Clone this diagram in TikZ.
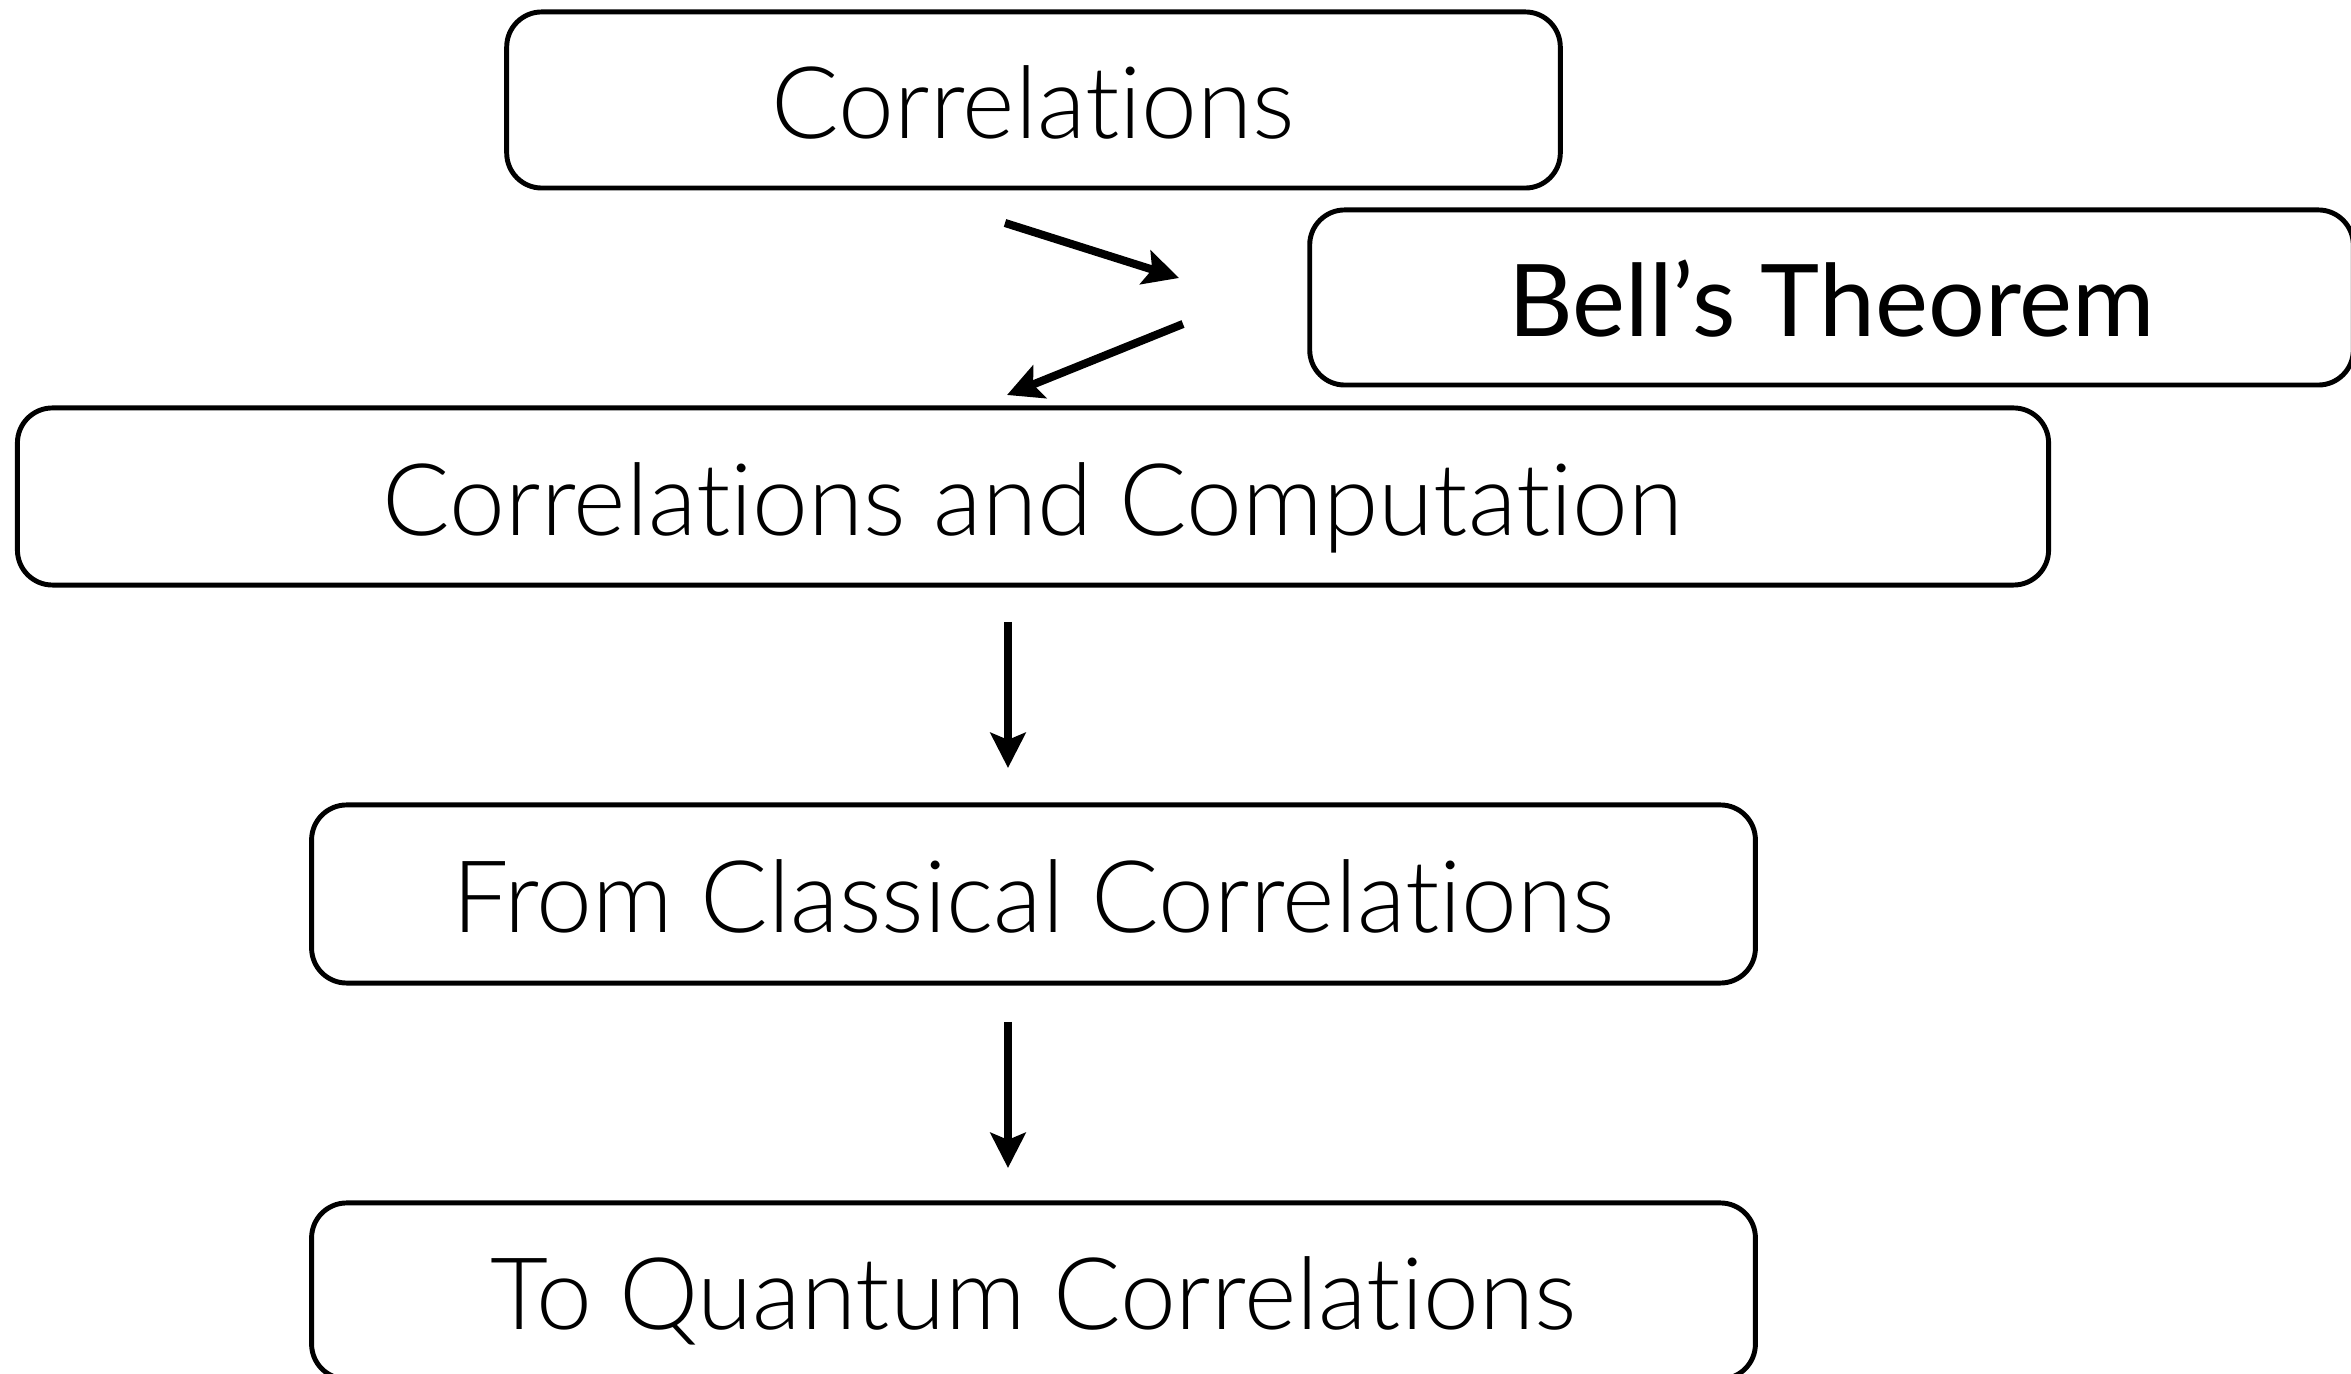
\documentclass[tikz,border=0pt]{standalone}
\usepackage{fontspec}
\setmainfont{Lato}[UprightFont=* Light, BoldFont=*, Ligatures=NoCommon]
\usetikzlibrary{arrows.meta}

\tikzset{
  topicbox/.style={draw, line width=1.4pt, rounded corners=0.35cm, inner sep=0pt,
    text height=22pt, text depth=0pt, font=\fontsize{28.5}{34}\selectfont},
  flowarrow/.style={line width=2.3pt, -{Stealth[length=10pt,width=10pt,inset=2pt]}}
}

\begin{document}
\begin{tikzpicture}[x=0.01cm, y=-0.01cm]

\useasboundingbox (0,0) rectangle (2351,1374);
\clip (0,0) rectangle (2351,1374);

\node[topicbox, minimum width=10.53cm, minimum height=1.76cm] (corr) at (1033.5,100) {Correlations};
\node[topicbox, minimum width=10.43cm, minimum height=1.75cm] (bell) at (1831.5,297.5) {\bfseries Bell's Theorem};
\node[topicbox, minimum width=20.30cm, minimum height=1.77cm] (comp) at (1033,496.5) {Correlations and Computation};
\node[topicbox, minimum width=14.43cm, minimum height=1.78cm] (classical) at (1033.5,894) {From Classical Correlations};
\node[topicbox, minimum width=14.43cm, minimum height=1.76cm] (quantum) at (1033.5,1291) {To Quantum Correlations};

% free ends of the arrows
\coordinate (A1) at (1005,223);
\coordinate (A2) at (1179,278);
\coordinate (B1) at (1183,324);
\coordinate (B2) at (1007,395);
\coordinate (C1) at (1008,622);
\coordinate (C2) at (1008,768);
\coordinate (D1) at (1008,1022);
\coordinate (D2) at (1008,1168);

\draw[flowarrow] (A1) -- (A2);
\draw[flowarrow] (B1) -- (B2);
\draw[flowarrow] (C1) -- (C2);
\draw[flowarrow] (D1) -- (D2);

\end{tikzpicture}
\end{document}
